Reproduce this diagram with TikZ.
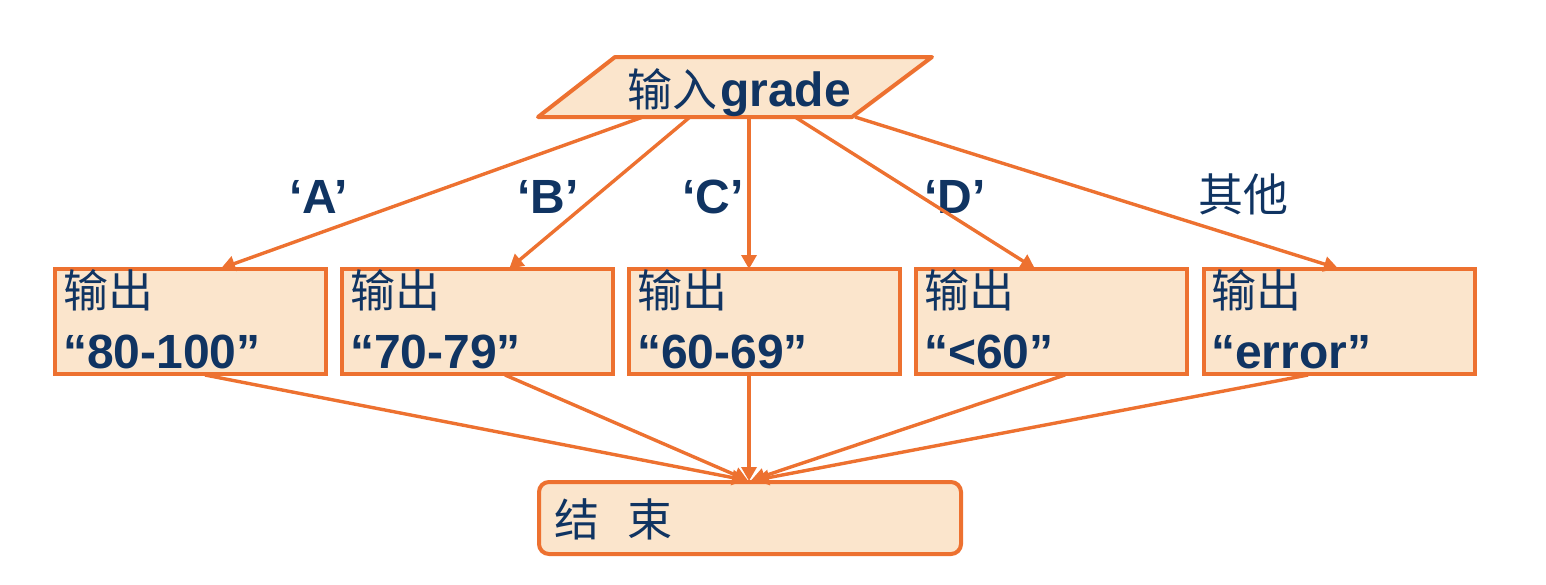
\documentclass[tikz,border=0pt]{standalone}
\usepackage{fontspec}
\setmainfont{Liberation Sans}
\newfontfamily\cjk{Noto Sans CJK SC}
\usetikzlibrary{arrows.meta}
\definecolor{orng}{RGB}{237,113,48}
\definecolor{lfill}{RGB}{251,229,204}
\definecolor{navy}{RGB}{16,52,98}
\tikzset{
  outbox/.style={draw=orng, fill=lfill, line width=4pt, minimum width=271pt, minimum height=105pt, inner sep=0pt},
  cjktext/.style={text=navy, font=\cjk\fontsize{45}{45}\selectfont, inner sep=0pt, anchor=base west},
  bltext/.style={text=navy, font=\bfseries\fontsize{48}{48}\selectfont, inner sep=0pt, anchor=base west},
  conn/.style={draw=orng, line width=3.4pt, -{Triangle[length=14pt,width=15pt]}, shorten >=-1pt}
}
\begin{document}
\begin{tikzpicture}[x=1pt,y=-1pt]
\useasboundingbox (0,0) rectangle (1546,584);
% input parallelogram
\draw[draw=orng, fill=lfill, line width=4pt, line join=round] (615,57) -- (932,57) -- (852,117) -- (538,117) -- cycle;
\node[cjktext] (inp) at (627,106) {输入};
\node[bltext] (grd) at (720,106) {grade};
\coordinate (s1) at (643,117);
\coordinate (s2) at (690,117);
\coordinate (s3) at (749,117);
\coordinate (s4) at (795,117);
\coordinate (s5) at (855,117);
% output boxes
\node[outbox] (b1) at (190.5,321.5) {};
\node[outbox] (b2) at (477.5,321.5) {};
\node[outbox] (b3) at (764.5,321.5) {};
\node[outbox] (b4) at (1051.5,321.5) {};
\node[outbox] (b5) at (1339,321.5) {};
\foreach \b/\x/\t in {1/63/“80-100”,2/350/“70-79”,3/637/“60-69”,4/924/“<60”,5/1211/“error”}{
  \node[cjktext] (o\b) at (\x,307) {输出};
  \node[bltext] (v\b) at (\x,368) {\t};
}
% end box
\node[draw=orng, fill=lfill, line width=4pt, rounded corners=10pt, minimum width=422pt, minimum height=72pt, inner sep=0pt] (end) at (750,518) {};
\node[cjktext] (endt) at (554,536) {结\hspace{28pt}束};
% labels
\node[bltext] (la) at (289,213) {‘A’};
\node[bltext] (lb) at (517,213) {‘B’};
\node[bltext] (lc) at (682,213) {‘C’};
\node[bltext] (ld) at (924,213) {‘D’};
\node[cjktext] (le) at (1198,211) {其他};
% connectors top
\coordinate (e1) at (222,268);
\coordinate (e2) at (510,268);
\coordinate (e3) at (749,268);
\coordinate (e4) at (1034,268);
\coordinate (e5) at (1337,268);
\foreach \i in {1,...,5}{\draw[conn] (s\i) -- (e\i);}
% connectors bottom
\coordinate (f1) at (205,375);
\coordinate (f2) at (505,375);
\coordinate (f3) at (749,375);
\coordinate (f4) at (1065,375);
\coordinate (f5) at (1308,375);
\coordinate (g1) at (745,480);
\coordinate (g2) at (747,480);
\coordinate (g3) at (749,480);
\coordinate (g4) at (752,480);
\coordinate (g5) at (756,480);
\foreach \i in {1,...,5}{\draw[conn] (f\i) -- (g\i);}
\end{tikzpicture}
\end{document}
